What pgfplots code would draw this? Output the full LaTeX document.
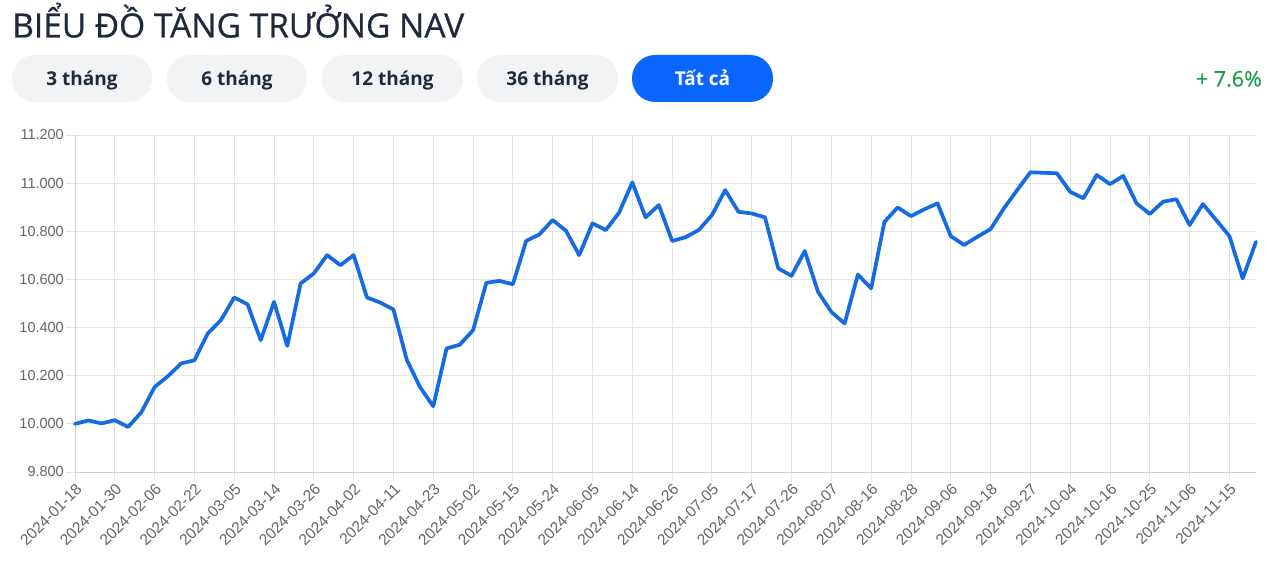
\documentclass[border=0pt]{standalone}
\usepackage{pgfplots}
\pgfplotsset{compat=1.18}
\usepackage{pgfplotstable}
\usepackage{fontspec}
\setmainfont{Liberation Sans}
\newfontfamily\opensans{Open Sans}
\newfontfamily\opentitle[FakeBold=0.6]{Open Sans}
\newfontfamily\tickfont{Liberation Sans}
\definecolor{NavLine}{HTML}{156BE3}
\definecolor{GridGray}{HTML}{E3E3E3}
\definecolor{AxisGray}{HTML}{CFCFCF}
\definecolor{TickText}{HTML}{666666}
\definecolor{TitleInk}{HTML}{1E293B}
\definecolor{PillGray}{HTML}{F1F3F5}
\definecolor{PillBlue}{HTML}{0A66FF}
\definecolor{UpGreen}{HTML}{1E9E4A}

\pgfplotstableread{
idx nav
0 10000
1 10014
2 10002
3 10015
4 9987
5 10048
6 10153
7 10198
8 10251
9 10264
10 10375
11 10431
12 10525
13 10497
14 10348
15 10507
16 10324
17 10583
18 10625
19 10701
20 10659
21 10701
22 10525
23 10504
24 10475
25 10267
26 10153
27 10073
28 10313
29 10329
30 10389
31 10586
32 10594
33 10580
34 10760
35 10787
36 10847
37 10802
38 10701
39 10833
40 10805
41 10877
42 11003
43 10858
44 10909
45 10760
46 10775
47 10805
48 10867
49 10971
50 10881
51 10874
52 10858
53 10646
54 10615
55 10718
56 10548
57 10465
58 10417
59 10620
60 10563
61 10839
62 10899
63 10863
64 10891
65 10916
66 10780
67 10743
68 10777
69 10809
70 10895
71 10971
72 11045
73 11043
74 11041
75 10964
76 10937
77 11034
78 10996
79 11030
80 10916
81 10872
82 10923
83 10933
84 10826
85 10913
86 10847
87 10780
88 10604
89 10756
}\navdata

\begin{document}
\begin{tikzpicture}
\fill[white] (0,0) rectangle (1268pt,-561pt);
\path[use as bounding box] (0,0) rectangle (1268pt,-561pt);

% header
\begin{scope}[x=1pt,y=1pt]
\node[anchor=base west,inner sep=0,text=TitleInk,font=\opentitle\fontsize{33.5}{38}\selectfont] at (12,-37.5) {BIỂU ĐỒ TĂNG TRƯỞNG NAV};
\foreach \xa/\xb/\lab in {12/152/3 tháng,167/307/6 tháng,322/463/12 tháng,477/618/36 tháng}{
  \fill[PillGray,rounded corners=23pt] (\xa,-55) rectangle (\xb,-102);
  \node[anchor=base,inner sep=0,text=TitleInk,font=\opensans\bfseries\fontsize{19}{22}\selectfont] at ({(\xa+\xb)/2},-85.5) {\lab};
}
\fill[PillBlue,rounded corners=23pt] (632,-55) rectangle (773,-102);
\node[anchor=base,inner sep=0,text=white,font=\opensans\bfseries\fontsize{19}{22}\selectfont] at (702.5,-85.5) {Tất cả};
\node[anchor=base east,inner sep=0,text=UpGreen,font=\opentitle\fontsize{21.5}{24}\selectfont] at (1262,-86.5) {+ 7.6\%};
\end{scope}

\begin{axis}[
  at={(75pt,-472pt)}, anchor=south west,
  scale only axis, width=1181pt, height=337pt,
  xmin=0, xmax=89, ymin=9800, ymax=11200,
  scaled y ticks=false,
  axis x line=bottom, axis y line=left,
  axis line style={-, draw=AxisGray, line width=0.9pt},
  xtick={0,3,...,87},
  xticklabels={2024-01-18,2024-01-30,2024-02-06,2024-02-22,2024-03-05,2024-03-14,2024-03-26,2024-04-02,2024-04-11,2024-04-23,2024-05-02,2024-05-15,2024-05-24,2024-06-05,2024-06-14,2024-06-26,2024-07-05,2024-07-17,2024-07-26,2024-08-07,2024-08-16,2024-08-28,2024-09-06,2024-09-18,2024-09-27,2024-10-04,2024-10-16,2024-10-25,2024-11-06,2024-11-15},
  ytick={9800,10000,10200,10400,10600,10800,11000,11200},
  yticklabels={9.800,10.000,10.200,10.400,10.600,10.800,11.000,11.200},
  grid=major, grid style={draw=GridGray, line width=0.9pt},
  tick align=outside, major tick length=9pt,
  tick style={draw=GridGray, line width=0.9pt},
  yticklabel style={text=TickText, font=\tickfont\fontsize{14.5}{16}\selectfont, anchor=east, inner sep=2pt},
  xticklabel style={text=TickText, font=\tickfont\fontsize{15.5}{17}\selectfont, rotate=45, anchor=north east, inner sep=1pt},
  clip=false,
]
\addplot[NavLine, line width=3.7pt, line join=round, line cap=round] table[x=idx,y=nav] {\navdata};
\end{axis}
\end{tikzpicture}
\end{document}
